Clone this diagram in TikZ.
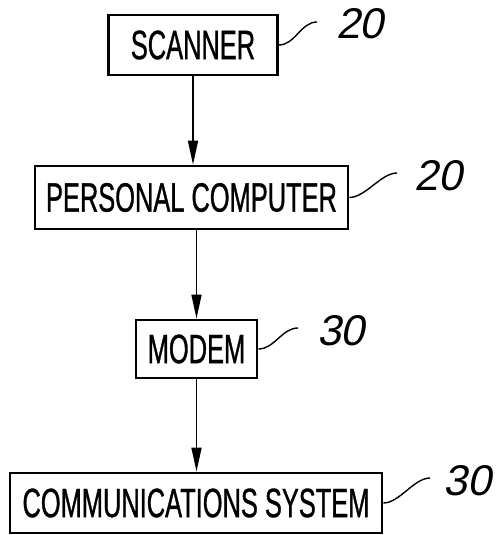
\documentclass[tikz,border=0pt]{standalone}
\usepackage{fontspec}
\newfontfamily\boxfont[FakeStretch=0.62,FakeBold=0.8]{Liberation Sans}
\newfontfamily\tagfont[FakeSlant=0.2]{Liberation Sans}
\usetikzlibrary{arrows.meta}

\tikzset{
  unit/.style={draw, line width=2.8pt, inner sep=0pt, font=\boxfont\fontsize{41}{44}\selectfont},
  flow/.style={line width=1.6pt, -{Triangle[length=24pt,width=10pt]}},
  lead/.style={line width=1.4pt},
  tag/.style={font=\tagfont\fontsize{43}{48}\selectfont, inner sep=0pt}
}

\begin{document}
\begin{tikzpicture}[x=1pt, y=-1pt]
            \useasboundingbox (0,0) rectangle (500,535);

            \node[unit, minimum width=169pt, minimum height=60pt] (scanner) at (193,45) {SCANNER};
            \node[unit, minimum width=313pt, minimum height=63pt] (pc) at (191.5,197.5) {PERSONAL COMPUTER};
            \node[unit, minimum width=121pt, minimum height=58pt] (modem) at (196.5,349) {MODEM};
            \node[unit, minimum width=372pt, minimum height=60pt] (comms) at (196,503) {COMMUNICATIONS SYSTEM};

            \coordinate (s1) at (317,22);
            \coordinate (s2) at (397,173);
            \coordinate (s3) at (298,328);
            \coordinate (s4) at (430,478);

            \node[tag] (n1) at (360,24) {20};
            \node[tag] (n2) at (438,176) {20};
            \node[tag] (n3) at (341,331) {30};
            \node[tag] (n4) at (467,481) {30};

            \draw[flow] (scanner.south) -- (scanner.south |- pc.north);
            \draw[flow] (modem.north |- pc.south) -- (modem.north);
            \draw[flow] (modem.south) -- (modem.south |- comms.north);

            \draw[lead] (scanner.east) .. controls +(16,0) and +(-16,0) .. (s1);
            \draw[lead] (pc.east) .. controls +(16,0) and +(-16,0) .. (s2);
            \draw[lead] (modem.east) .. controls +(16,0) and +(-16,0) .. (s3);
            \draw[lead] (comms.east) .. controls +(16,0) and +(-16,0) .. (s4);
        \end{tikzpicture}
\end{document}
